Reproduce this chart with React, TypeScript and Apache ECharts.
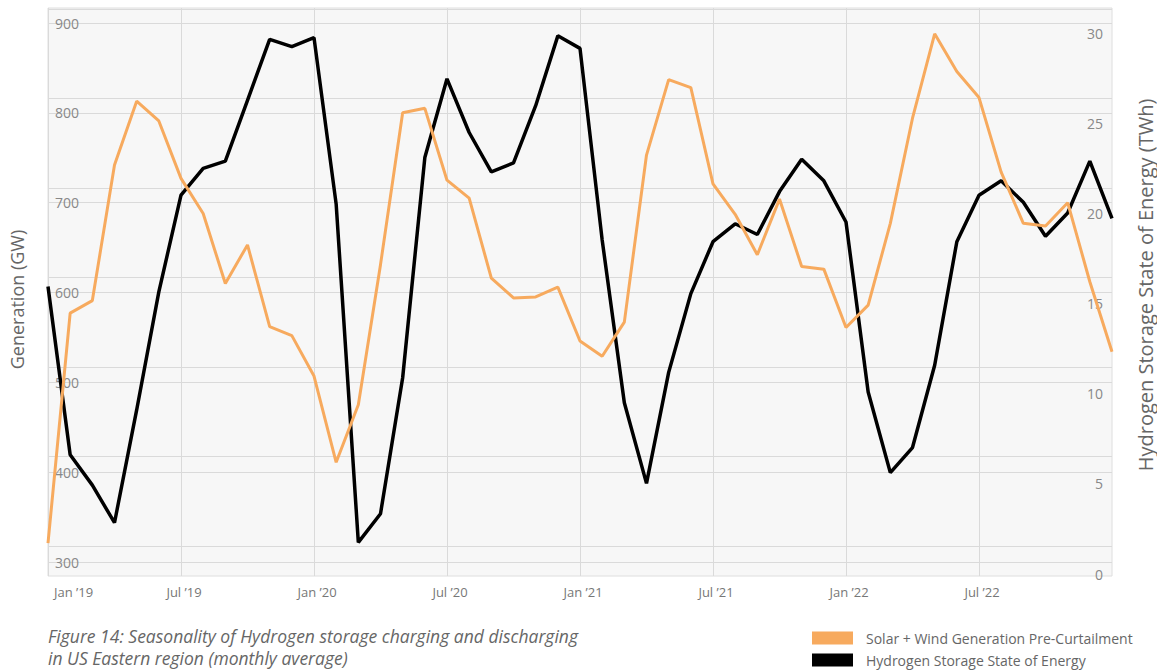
import React, { useEffect, useRef } from "react";
import * as echarts from "echarts";

const categories = [
  "Jan ’19", "Feb ’19", "Mar ’19", "Apr ’19", "May ’19", "Jun ’19", "Jul ’19", "Aug ’19", "Sep ’19", "Oct ’19", "Nov ’19", "Dec ’19",
  "Jan ’20", "Feb ’20", "Mar ’20", "Apr ’20", "May ’20", "Jun ’20", "Jul ’20", "Aug ’20", "Sep ’20", "Oct ’20", "Nov ’20", "Dec ’20",
  "Jan ’21", "Feb ’21", "Mar ’21", "Apr ’21", "May ’21", "Jun ’21", "Jul ’21", "Aug ’21", "Sep ’21", "Oct ’21", "Nov ’21", "Dec ’21",
  "Jan ’22", "Feb ’22", "Mar ’22", "Apr ’22", "May ’22", "Jun ’22", "Jul ’22", "Aug ’22", "Sep ’22", "Oct ’22", "Nov ’22", "Dec ’22",
  "Jan ’23",
];

// Solar + Wind Generation Pre-Curtailment (GW), left axis
const generation = [
  321, 577, 591, 742, 813, 791, 727, 688, 610, 653, 562, 552,
  507, 411, 475, 631, 800, 805, 725, 705, 616, 594, 595, 606,
  546, 529, 567, 753, 837, 828, 721, 687, 642, 704, 629, 626,
  561, 586, 677, 794, 888, 846, 817, 734, 677, 674, 700, 612,
  534,
];

// Hydrogen Storage State of Energy (TWh), right axis
const storage = [
  14.5, 5.1, 3.4, 1.3, 7.6, 14.2, 19.6, 21.1, 21.5, 24.9, 28.3, 27.9,
  28.4, 19.1, 0.2, 1.8, 9.4, 21.7, 26.1, 23.1, 20.9, 21.4, 24.6, 28.5,
  27.8, 17.1, 8.0, 3.5, 9.7, 14.1, 17.0, 18.0, 17.4, 19.8, 21.6, 20.4,
  18.1, 8.6, 4.1, 5.5, 10.1, 17.0, 19.6, 20.4, 19.2, 17.3, 18.6, 21.5,
  18.3,
];

const leftTicks = { min: 300, max: 900, interval: 100 };
const rightTicks = { min: 0, max: 30, interval: 5 };

const seriesNames = ["Solar + Wind Generation Pre-Curtailment", "Hydrogen Storage State of Energy"];

const captionLines = [
  "Figure 14: Seasonality of Hydrogen storage charging and discharging",
  "in US Eastern region (monthly average)",
];

const FONT = "'Open Sans', Lato, sans-serif";
const ORANGE = "#f7aa5e";
const BLACK = "#000000";
const GRID_LINE = "#dadada";

export default function App() {
  const ref = useRef<HTMLDivElement>(null);

  useEffect(() => {
    if (!ref.current) return;
    const chart = echarts.init(ref.current, undefined, { renderer: "svg" });
    const showTick = (index: number) => index % 6 === 0 && index < categories.length - 1;
    const hiddenX = (gridIndex: number) => ({
      type: "category",
      gridIndex,
      data: categories,
      boundaryGap: false,
      show: false,
    });
    const legendItem = (name: string, top: number) => ({
      orient: "vertical",
      left: 807,
      top,
      itemWidth: 41,
      itemHeight: 13,
      icon: "rect",
      textStyle: { color: "#666666", fontSize: 14, fontFamily: FONT, padding: [0, 0, 0, 8] },
      data: [name],
    });
    const gridBox = (top: number, bottom: number) => ({
      left: 48,
      right: 45,
      top,
      bottom,
      containLabel: false,
      outerBoundsMode: "none",
    });

    chart.setOption({
      animation: false,
      backgroundColor: "#ffffff",
      textStyle: { fontFamily: FONT },
      grid: [
        {
          ...gridBox(8, 95),
          show: true, backgroundColor: "#f7f7f7", borderColor: "#dedede", borderWidth: 1,
        },
        gridBox(23, 109),
        gridBox(9, 125),
        gridBox(33, 97),
      ],
      xAxis: [
        {
          type: "category",
          gridIndex: 0,
          data: categories,
          boundaryGap: false,
          axisLine: { show: false },
          axisTick: { show: false },
          axisLabel: {
            interval: showTick,
            color: "#777777",
            fontSize: 13,
            fontFamily: FONT,
            margin: 9,
            alignMinLabel: "left",
            padding: [0, 0, 0, 6],
          },
          splitLine: { show: true, interval: showTick, lineStyle: { color: GRID_LINE, width: 1 } },
        },
        hiddenX(1),
        hiddenX(2),
        hiddenX(3),
      ],
      yAxis: [
        { type: "value", gridIndex: 0, show: false },
        {
          type: "value",
          gridIndex: 1,
          position: "left",
          min: leftTicks.min,
          max: leftTicks.max,
          interval: leftTicks.interval,
          name: "Generation (GW)",
          nameLocation: "middle",
          nameGap: 22,
          nameTextStyle: { color: "#666666", fontSize: 18, fontFamily: FONT, padding: [0, 14, 0, 0] },
          axisLine: { show: false },
          axisTick: { show: false },
          axisLabel: { inside: true, margin: 7, color: "#888888", fontSize: 14, fontFamily: FONT },
          splitLine: { show: true, lineStyle: { color: GRID_LINE, width: 1 } },
        },
        {
          type: "value",
          gridIndex: 2,
          position: "right",
          min: rightTicks.min,
          max: rightTicks.max,
          interval: rightTicks.interval,
          name: "Hydrogen Storage State of Energy (TWh)",
          nameLocation: "middle",
          nameGap: 23,
          nameTextStyle: { color: "#666666", fontSize: 20, fontFamily: FONT, padding: [0, 15, 0, 0] },
          axisLine: { show: false },
          axisTick: { show: false },
          axisLabel: { show: false },
          splitLine: { show: true, lineStyle: { color: GRID_LINE, width: 1 } },
        },
        {
          type: "value",
          gridIndex: 3,
          position: "right",
          min: rightTicks.min,
          max: rightTicks.max,
          interval: rightTicks.interval,
          axisLine: { show: false },
          axisTick: { show: false },
          axisLabel: { inside: true, margin: 9, color: "#888888", fontSize: 14, fontFamily: FONT },
          splitLine: { show: false },
        },
      ],
      legend: [legendItem(seriesNames[0], 626), legendItem(seriesNames[1], 648)],
      graphic: [
        {
          type: "text",
          left: 48,
          top: 625,
          style: {
            text: captionLines.join("\n"),
            fill: "#666666",
            font: `italic 17.5px ${FONT}`,
            lineHeight: 22,
          },
        },
      ],
      series: [
        {
          name: seriesNames[0],
          type: "line",
          xAxisIndex: 1,
          yAxisIndex: 1,
          data: generation,
          symbol: "none",
          z: 3,
          lineStyle: { color: ORANGE, width: 3 },
          itemStyle: { color: ORANGE },
        },
        {
          name: seriesNames[1],
          type: "line",
          xAxisIndex: 2,
          yAxisIndex: 2,
          data: storage,
          symbol: "none",
          z: 2,
          lineStyle: { color: BLACK, width: 3.5 },
          itemStyle: { color: BLACK },
        },
      ],
    });

    return () => chart.dispose();
  }, []);

  return (
    <div
      ref={ref}
      style={{ position: "absolute", left: 0, top: 0, width: 1157, height: 671, background: "#ffffff" }}
    />
  );
}
